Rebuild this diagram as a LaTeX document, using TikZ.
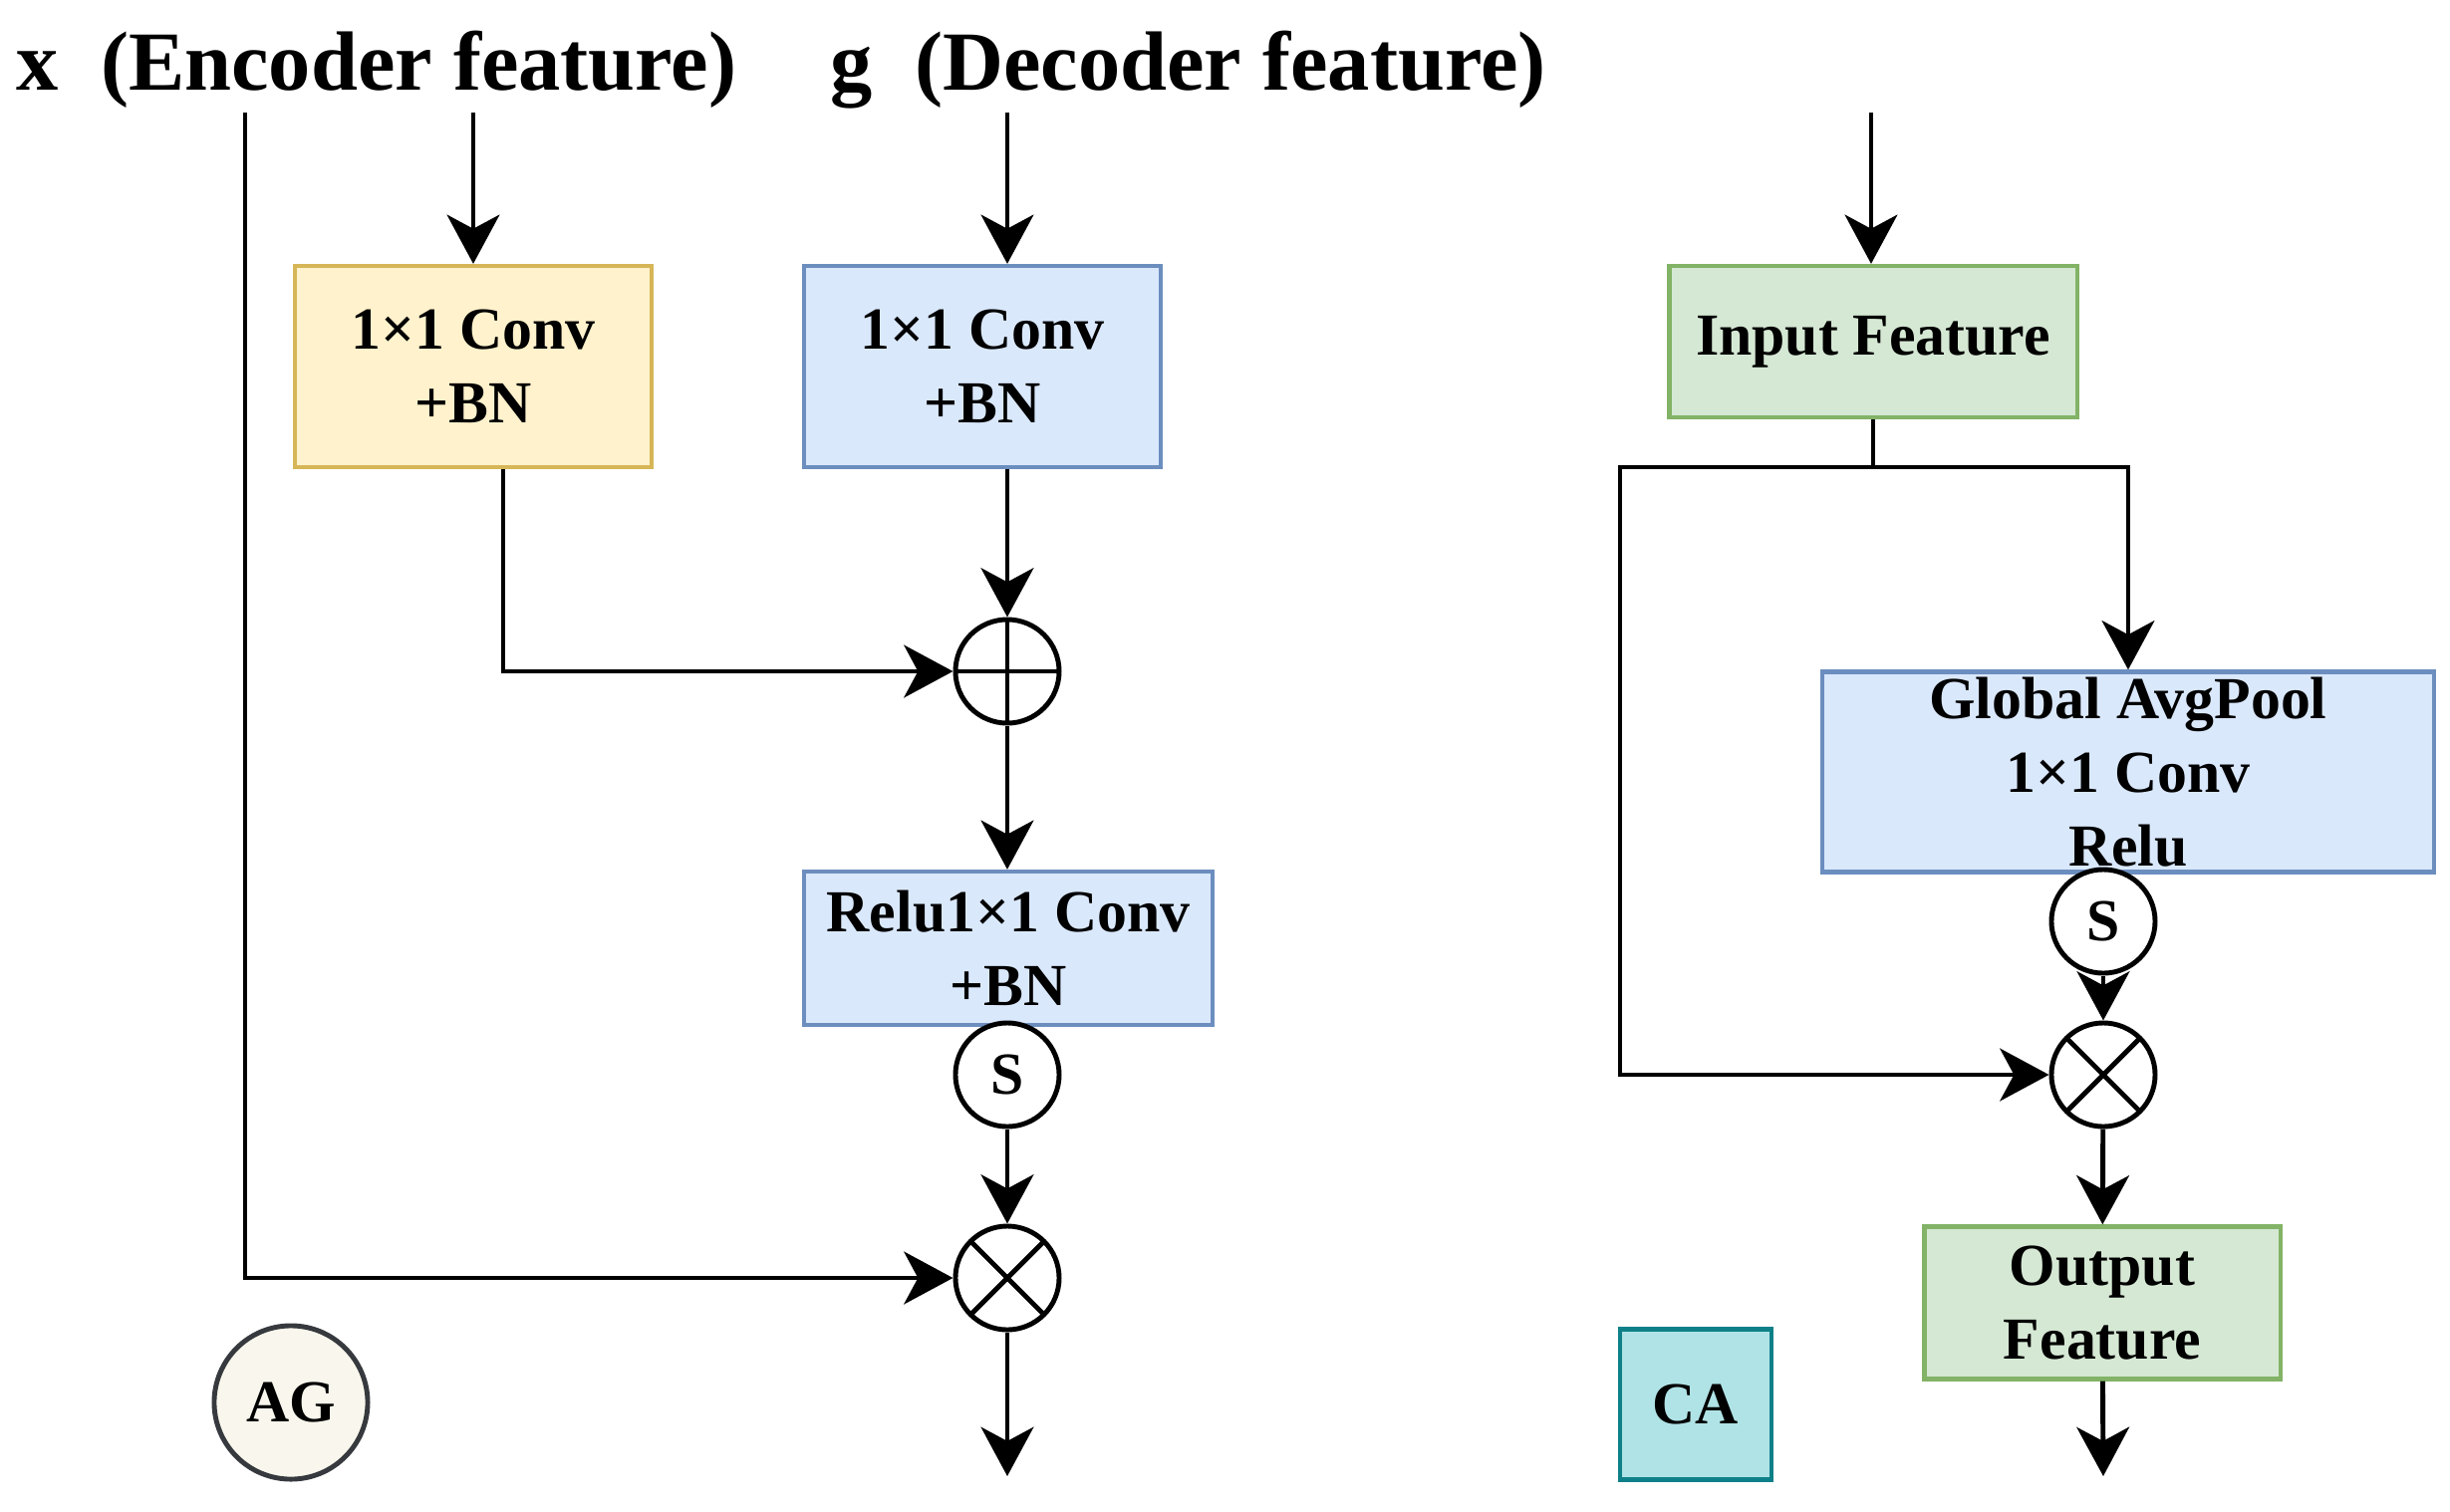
\documentclass[tikz,border=0pt]{standalone}
\usepackage{fontspec}
\setmainfont{Liberation Serif}
\usepackage{xcolor}
\usetikzlibrary{arrows.meta,positioning,calc}

\definecolor{ylwfill}{HTML}{FFF2CC}
\definecolor{ylwdraw}{HTML}{D6B656}
\definecolor{bluefill}{HTML}{DAE8FC}
\definecolor{bluedraw}{HTML}{6C8EBF}
\definecolor{grnfill}{HTML}{D5E8D4}
\definecolor{grndraw}{HTML}{82B366}
\definecolor{cafill}{HTML}{B0E3E6}
\definecolor{cadraw}{HTML}{0E8088}
\definecolor{agfill}{HTML}{F9F7ED}
\definecolor{agdraw}{HTML}{36393D}
\newcommand\boxfont{\bfseries\fontsize{17}{21}\selectfont}
\newcommand\ttlfont{\bfseries\fontsize{24}{28}\selectfont}

\begin{document}
\begin{tikzpicture}[
  x=0.01cm, y=-0.01cm,
  box/.style={draw, line width=1.2pt, inner sep=0pt, align=center, font=\boxfont},
  opc/.style={circle, draw, line width=1.4pt, fill=white, minimum size=1.04cm, inner sep=0pt, font=\boxfont},
  opadd/.style={path picture={\draw[line width=1.4pt] (path picture bounding box.north) -- (path picture bounding box.south) (path picture bounding box.west) -- (path picture bounding box.east);}},
  opmul/.style={path picture={\draw[line width=1.4pt] (path picture bounding box.north west) -- (path picture bounding box.south east) (path picture bounding box.north east) -- (path picture bounding box.south west);}},
  ttl/.style={font=\ttlfont, inner sep=0pt, anchor=base west},
  line/.style={line width=1.4pt},
  arr/.style={-{Stealth[length=14pt, width=15pt, inset=4pt]}, line width=1.4pt},
]
  \useasboundingbox (0,0) rectangle (2459,1517);

  % Attention gate (left)
  \node[ttl] (xt) at (16,90) {x\enspace(Encoder feature)};
  \node[ttl] (gt) at (833,90) {g\enspace(Decoder feature)};

  \node[box, fill=ylwfill, draw=ylwdraw, minimum width=3.58cm, minimum height=2.02cm] (convx) at (475,368) {1×1 Conv\\+BN};
  \node[box, fill=bluefill, draw=bluedraw, minimum width=3.58cm, minimum height=2.02cm] (convg) at (986,368) {1×1 Conv\\+BN};
  \node[opc, opadd] (add) at (1011,674) {};
  \node[box, fill=bluefill, draw=bluedraw, minimum width=4.10cm, minimum height=1.54cm] (relu) at (1012,952) {Relu1×1 Conv\\+BN};
  \node[opc] (sig) at (1011,1079) {S};
  \node[opc, opmul] (mul) at (1011,1283) {};
  \node[circle, draw=agdraw, fill=agfill, line width=1.4pt, minimum size=1.54cm, font=\boxfont] (ag) at (292,1408) {AG};

  \coordinate (xin) at (246,113);
  \coordinate (xcin) at (475,113);
  \coordinate (gin) at (1011,113);
  \coordinate (agout) at (1011,1482);

  \draw[arr] (xcin) -- (convx);
  \draw[arr] (gin) -- (gin |- convg.north);
  \draw[arr] (convg.south -| add) -- (add);
  \draw[arr] ([xshift=0.3cm]convx.south) |- (add);
  \draw[arr] (add) -- (add |- relu.north);
  \draw[arr] (sig) -- (mul);
  \draw[arr] (xin) |- (mul);
  \draw[arr] (mul) -- (agout);

  % Channel attention (right)
  \node[box, fill=grnfill, draw=grndraw, minimum width=4.09cm, minimum height=1.52cm] (inF) at (1880,343) {Input Feature};
  \node[box, fill=bluefill, draw=bluedraw, minimum width=6.13cm, minimum height=2.01cm] (gap) at (2136,775) {Global AvgPool\\1×1 Conv\\Relu};
  \node[opc] (sigca) at (2111,925) {S};
  \node[opc, opmul] (mulca) at (2111,1079) {};
  \node[box, fill=grnfill, draw=grndraw, minimum width=3.57cm, minimum height=1.53cm] (outF) at (2110,1308) {Output\\Feature};
  \node[box, fill=cafill, draw=cadraw, minimum width=1.52cm, minimum height=1.51cm] (ca) at (1702,1410) {CA};

  \coordinate (cin) at (1878,113);
  \coordinate (split) at (1880,469);
  \coordinate (skip) at (1626,1079);
  \coordinate (caout) at (2111,1482);

  \draw[arr] (cin) -- (cin |- inF.north);
  \draw[line] (inF.south) -- (split);
  \draw[arr] (split) -| (gap);
  \draw[arr] (split) -| (skip) -- (mulca);
  \draw[arr] (sigca) -- (mulca);
  \draw[arr] (mulca) -- (outF);
  \draw[arr] (outF) -- (caout);
\end{tikzpicture}
\end{document}
